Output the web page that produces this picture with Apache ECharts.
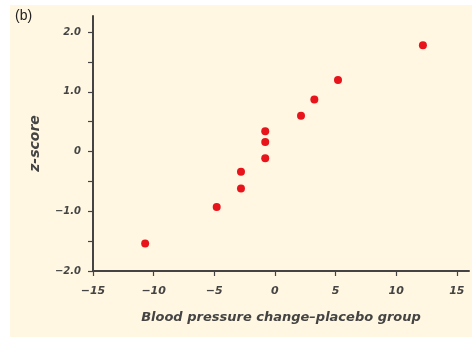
<!DOCTYPE html>
<html><head><meta charset="utf-8">
<script src="https://cdn.jsdelivr.net/npm/echarts@6/dist/echarts.min.js"></script>
<style>html,body{margin:0;padding:0;background:#fff}#c{width:472px;height:340px}</style>
</head><body><div id="c"></div>
<script>
var bpChange = [-10.7, -4.8, -2.8, -2.8, -0.8, -0.8, -0.8, 2.15, 3.25, 5.2, 12.2];
var zScore   = [-1.54, -0.93, -0.62, -0.34, -0.11, 0.16, 0.34, 0.6, 0.87, 1.2, 1.78];
var xTickValues = [-15, -10, -5, 0, 5, 10, 15];
var yTickValues = [-2, -1.5, -1, -0.5, 0, 0.5, 1, 1.5, 2];
var yLabelValues = [-2, -1, 0, 1, 2];
var yLabelText = {'-2':'\u22122.0','-1':'\u22121.0','0':'0','1':'1.0','2':'2.0'};

var points = bpChange.map(function(x,i){return [x, zScore[i]];});
var ink = '#444444';
var font = 'DejaVu Sans';
var chart = echarts.init(document.getElementById('c'), null, {renderer:'canvas'});
chart.setOption({
  backgroundColor:'#ffffff',
  animation:false,
  graphic:[
    {type:'rect', left:10, top:5, shape:{width:462, height:332}, style:{fill:'#FFF7E1'}, z:-10},
    {type:'text', left:15, top:9, style:{text:'(b)', font:'14px "Liberation Sans"', fill:'#222'}}
  ],
  grid:{left:93, right:3, top:16, bottom:69, containLabel:false},
  xAxis:{
    type:'value', min:-15, max:16,
    axisLine:{onZero:false, lineStyle:{color:ink, width:2}},
    axisTick:{show:true, customValues:xTickValues, length:5, lineStyle:{color:ink, width:1.2}},
    axisLabel:{customValues:xTickValues, color:ink, fontFamily:font, fontStyle:'italic', fontWeight:'bold', fontSize:11, margin:15,
      formatter:function(v){return v<0 ? '\u2212'+Math.abs(v) : String(v);}},
    splitLine:{show:false},
    name:'Blood pressure change\u2013placebo group', nameLocation:'middle', nameGap:40,
    nameTextStyle:{color:ink, fontFamily:font, fontStyle:'italic', fontWeight:'bold', fontSize:13}
  },
  yAxis:{
    type:'value', min:-2, max:2.27,
    axisLine:{onZero:false, lineStyle:{color:ink, width:2}},
    axisTick:{show:true, customValues:yTickValues, length:5, lineStyle:{color:ink, width:1.2}},
    axisLabel:{customValues:yLabelValues, color:ink, fontFamily:font, fontStyle:'italic', fontWeight:'bold', fontSize:10, margin:12,
      formatter:function(v){return yLabelText[String(v)];}},
    splitLine:{show:false},
    name:'z-score', nameLocation:'middle', nameGap:51, nameRotate:90,
    nameTextStyle:{color:ink, fontFamily:font, fontStyle:'italic', fontWeight:'bold', fontSize:14}
  },
  series:[{
    type:'scatter', data:points, symbol:'circle', symbolSize:8,
    itemStyle:{color:'#E8141B', opacity:1}
  }]
});
</script></body></html>
